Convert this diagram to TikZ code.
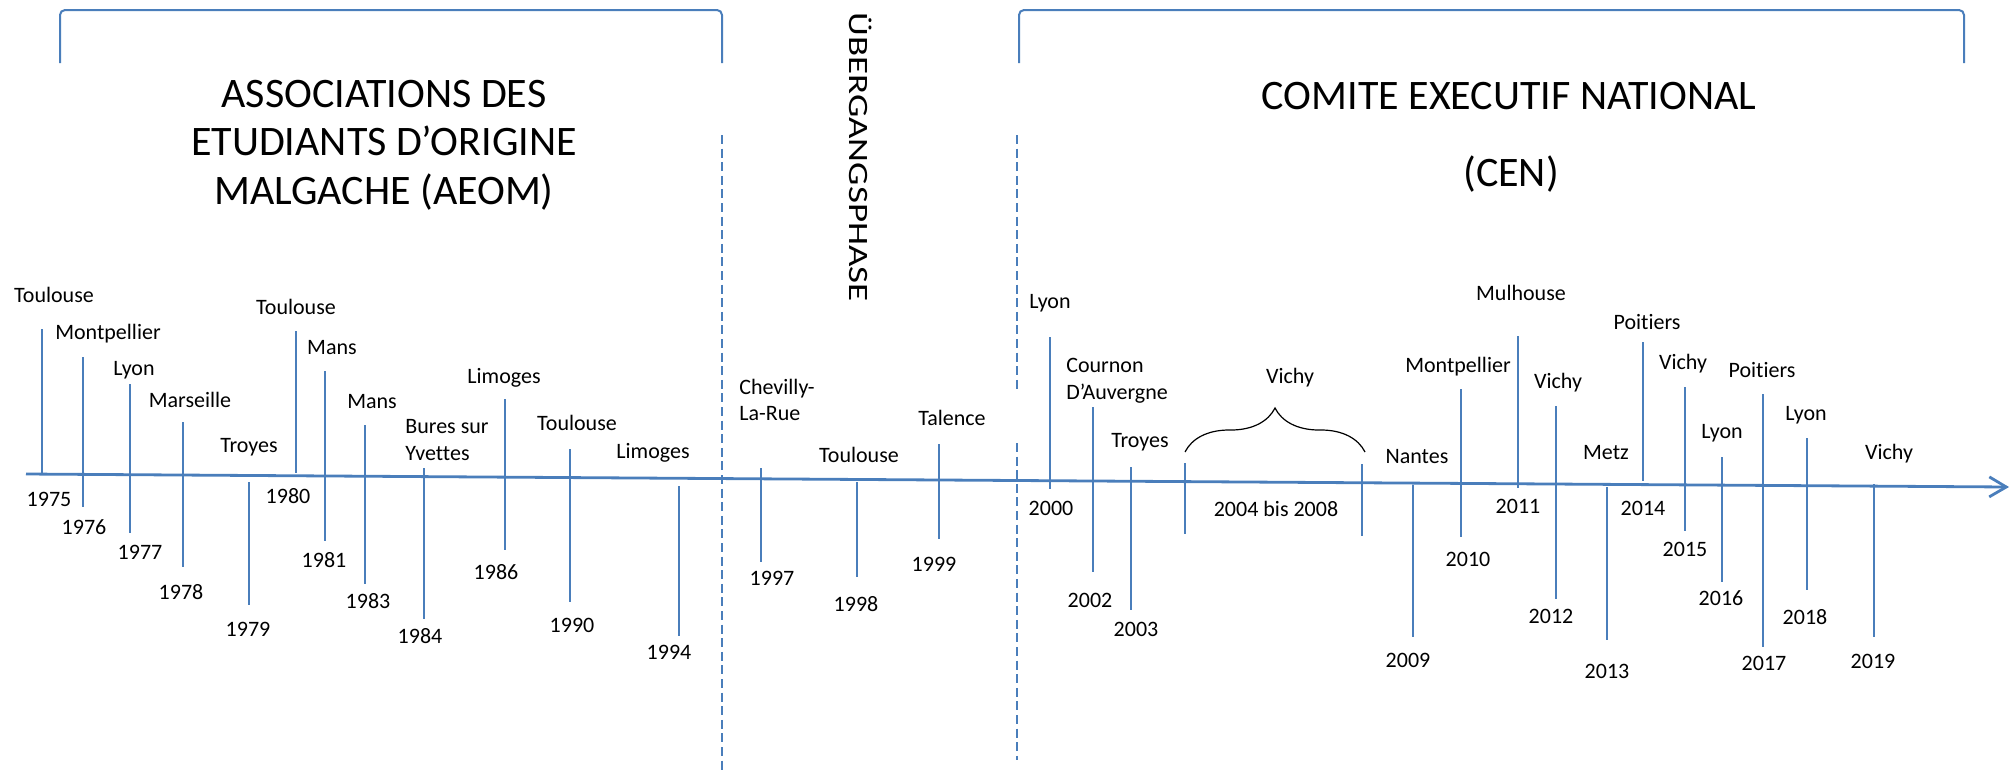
\documentclass[tikz,border=0pt]{standalone}
\usepackage{fontspec}
\setmainfont{Carlito}[Ligatures=NoCommon]
\newfontfamily\widefont[FakeStretch=1.32, Ligatures=NoCommon]{Carlito}
\usetikzlibrary{arrows.meta, decorations.pathreplacing}
\definecolor{lineblue}{HTML}{4A7EBB}
\tikzset{
	axis/.style={lineblue, line width=1.4pt, -{Straight Barb[length=8.5pt, width=10pt]}}, % the time line with its open head
	tick/.style={lineblue, line width=1.1pt}, % one stroke per meeting
	divider/.style={lineblue, line width=1pt, dash pattern=on 4.5pt off 2.3pt}, % splits the periods
	bracket/.style={lineblue, line width=1pt, rounded corners=2.5pt}, % groups a period
	place/.style={font=\fontsize{11}{13.4}\selectfont, inner sep=0pt, align=left}, % town of the meeting
	year/.style={font=\fontsize{11}{13.4}\selectfont, inner sep=0pt}, % year of the meeting
	period/.style={font=\fontsize{21}{24.3}\selectfont, inner sep=0pt, align=center}, % name of a period
	phase/.style={font=\widefont\fontsize{14}{16}\selectfont, inner sep=0pt, rotate=-90},
}

\begin{document}
\begin{tikzpicture}[x=0.5pt, y=-0.5pt]
	\useasboundingbox (0,0) rectangle (2016,772);

	% periods
	\draw[bracket] (60,63) -- (60,10) -- (722,10) -- (722,63);
	\draw[bracket] (1019,63) -- (1019,10) -- (1964,10) -- (1964,63);
	\node[period] (aeom) at (384,145) {ASSOCIATIONS DES\\ETUDIANTS D’ORIGINE\\MALGACHE (AEOM)};
	\node[period] (cen) at (1509,96) {COMITE EXECUTIF NATIONAL};
	\node[period] (censhort) at (1511,174) {(CEN)};
	\node[phase] (uebergang) at (861,157) {ÜBERGANGSPHASE};
	\draw[divider] (722,135) -- (722,772);
	\draw[divider] (1017,135) -- (1017,390);
	\draw[divider] (1017,443) -- (1017,760);

	% time line
	\draw[axis] (26,474) -- (2009,487);
	\foreach \x/\a/\b in {42/329/473, 83/357/507, 130/384/533, 183/422/567, 249/482/605,
		296/331/473, 325/371/541, 365/425/584, 424/468/619, 505/399/550, 570/449/602,
		679/486/636, 761/468/562, 857/482/577, 939/444/539, 1050/337/489, 1093/407/572,
		1131/467/610, 1185/463/534, 1362/464/536, 1413/485/637, 1461/389/537, 1518/336/488,
		1556/406/599, 1607/487/640, 1643/342/481, 1685/387/531, 1722/457/582, 1763/394/647,
		1807/438/590, 1874/484/637}
		\draw[tick] (\x,\a) -- (\x,\b);

	% towns
	\foreach \n/\x/\y/\t in {1975/54/295/Toulouse, 1976/108/334/Montpellier, 1977/134/370/Lyon,
		1978/190/400/Marseille, 1979/249/447/Troyes, 1980/296/307/Toulouse, 1981/332/348/Mans,
		1983/372/402/Mans, 1984/447/440/Bures sur\\Yvettes, 1986/504/378/Limoges,
		1990/577/423/Toulouse, 1994/653/453/Limoges, 1997/777/400/Chevilly-\\La-Rue,
		1998/859/455/Toulouse, 1999/952/418/Talence, 2000/1050/303/Lyon,
		2002/1117/381/Cournon\\D’Auvergne, 2003/1140/442/Troyes, 2004/1290/378/Vichy,
		2009/1417/457/Nantes, 2010/1458/367/Montpellier, 2011/1521/293/Mulhouse,
		2012/1558/383/Vichy, 2013/1606/453/Metz, 2014/1647/322/Poitiers, 2015/1683/364/Vichy,
		2016/1722/433/Lyon, 2017/1762/370/Poitiers, 2018/1806/415/Lyon, 2019/1889/454/Vichy}
		\node[place] (c\n) at (\x,\y) {\t};
	\draw[decorate, decoration={brace, amplitude=22pt}, line width=0.6pt] (1185,452) -- (1365,452);

	% years
	\foreach \n/\x/\y in {1975/49/499, 1976/84/527, 1977/140/552, 1978/181/592, 1979/248/629,
		1980/288/496, 1981/324/560, 1983/368/601, 1984/420/636, 1986/496/572, 1990/572/625,
		1994/669/652, 1997/772/578, 1998/856/604, 1999/934/564, 2000/1051/508, 2002/1090/600,
		2003/1136/629, 2009/1408/660, 2010/1468/559, 2011/1518/506, 2012/1551/616,
		2013/1607/671, 2014/1643/508, 2015/1685/549, 2016/1721/598, 2017/1764/663,
		2018/1805/617, 2019/1873/661}
		\node[year] (y\n) at (\x,\y) {\n};
	\node[year] (y2004) at (1276,509) {2004 bis 2008};
\end{tikzpicture}
\end{document}
